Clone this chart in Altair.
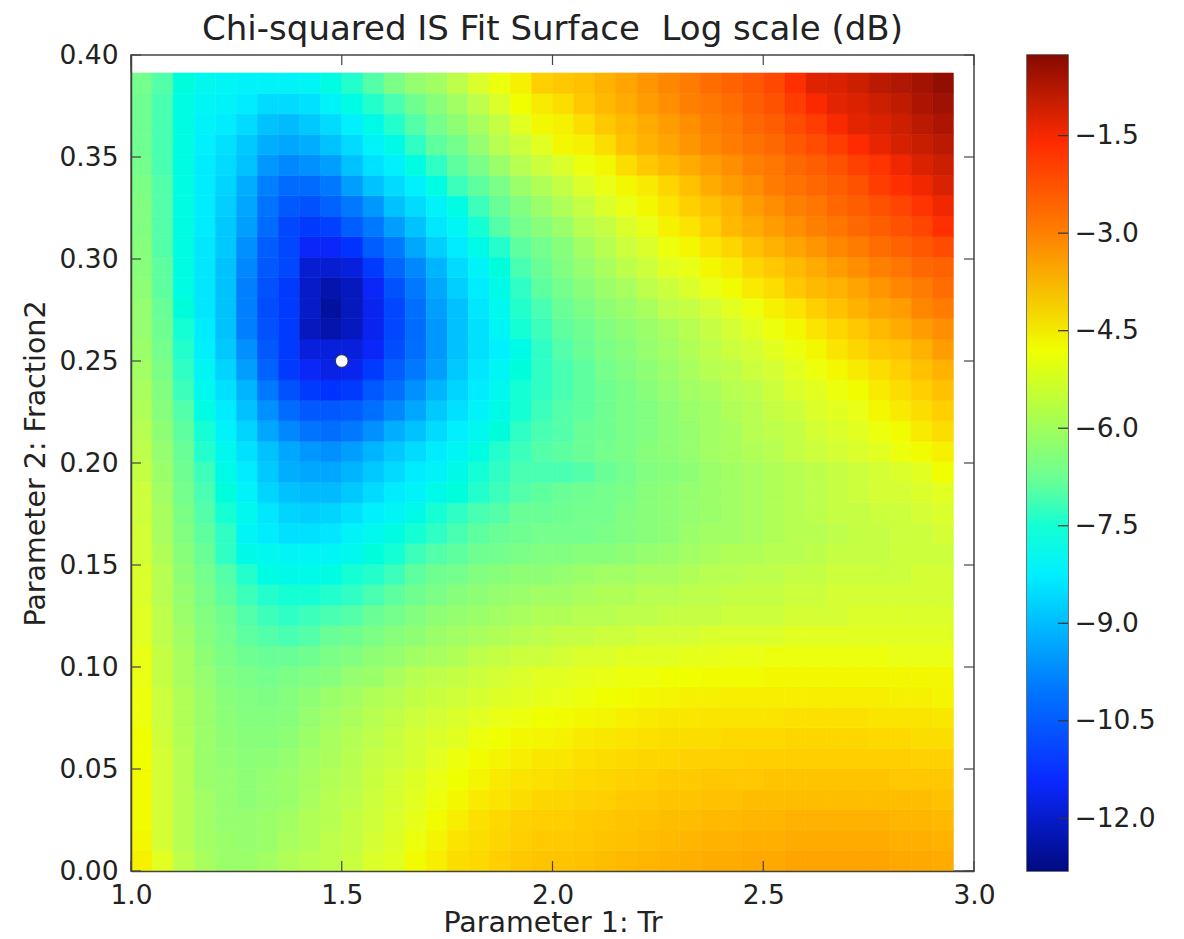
import altair as alt
import pandas as pd

alt.data_transformers.disable_max_rows()

# Surface values in dB; one list per fraction row (top to bottom)
r38 = [-6.6,-7.0,-7.6,-7.9,-8.0,-8.1,-8.1,-8.1,-8.0,-7.7,-7.4,-7.0,-6.5,-6.1,-5.9,-5.5,-5.1,-4.85,-4.6,-4.1,-4.0,-3.9,-3.7,-3.5,-3.3,-3.1,-2.9,-2.6,-2.4,-2.2,-1.95,-1.65,-1.25,-1.2,-1.05,-0.85,-0.75,-0.6,-0.4]
r37 = [-6.7,-7.1,-7.7,-8.0,-8.1,-8.3,-8.6,-8.6,-8.5,-8.1,-7.7,-7.4,-7.1,-6.7,-6.3,-5.9,-5.5,-5.1,-4.8,-4.5,-4.3,-4.0,-3.8,-3.6,-3.4,-3.2,-3.0,-2.8,-2.6,-2.3,-2.1,-1.8,-1.55,-1.3,-1.2,-1.05,-0.9,-0.7,-0.55]
r36 = [-6.7,-7.1,-7.7,-8.1,-8.3,-8.6,-9.0,-9.1,-8.9,-8.6,-8.2,-7.8,-7.4,-7.0,-6.6,-6.2,-5.8,-5.4,-5.0,-4.7,-4.6,-4.3,-4.0,-3.8,-3.6,-3.4,-3.2,-3.0,-2.8,-2.5,-2.3,-2.0,-1.8,-1.55,-1.3,-1.2,-1.05,-0.85,-0.7]
r35 = [-6.7,-7.1,-7.7,-8.2,-8.5,-8.9,-9.3,-9.4,-9.3,-9.0,-8.6,-8.1,-7.8,-7.3,-6.9,-6.6,-6.1,-5.6,-5.3,-5.0,-4.7,-4.6,-4.3,-3.9,-3.7,-3.5,-3.3,-3.1,-2.9,-2.7,-2.5,-2.2,-2.0,-1.8,-1.6,-1.35,-1.15,-1.0,-0.85]
r34 = [-6.6,-7.1,-7.7,-8.3,-8.6,-9.0,-9.6,-9.8,-9.7,-9.5,-9.0,-8.5,-8.2,-7.7,-7.3,-6.9,-6.5,-6.0,-5.6,-5.3,-5.1,-4.85,-4.7,-4.3,-4.0,-3.8,-3.6,-3.4,-3.2,-3.0,-2.8,-2.5,-2.3,-2.1,-1.85,-1.7,-1.45,-1.2,-1.05]
r33 = [-6.5,-7.0,-7.7,-8.3,-8.7,-9.3,-9.9,-10.3,-10.3,-10.0,-9.5,-9.0,-8.6,-8.2,-7.7,-7.2,-6.9,-6.5,-6.0,-5.7,-5.4,-5.1,-4.9,-4.7,-4.5,-4.2,-3.9,-3.6,-3.4,-3.2,-2.9,-2.7,-2.5,-2.3,-2.1,-1.8,-1.65,-1.45,-1.2]
r32 = [-6.4,-7.0,-7.7,-8.3,-8.8,-9.4,-10.1,-10.7,-10.8,-10.5,-10.0,-9.6,-9.0,-8.6,-8.1,-7.7,-7.2,-6.8,-6.4,-6.0,-5.7,-5.4,-5.1,-4.9,-4.7,-4.4,-4.1,-3.9,-3.7,-3.4,-3.2,-3.0,-2.8,-2.5,-2.3,-2.1,-1.9,-1.7,-1.45]
r31 = [-6.4,-7.0,-7.7,-8.3,-8.9,-9.5,-10.3,-11.0,-11.2,-11.1,-10.6,-10.0,-9.5,-9.0,-8.4,-8.0,-7.5,-7.0,-6.6,-6.3,-6.0,-5.6,-5.4,-5.1,-4.9,-4.6,-4.4,-4.1,-3.8,-3.6,-3.4,-3.2,-3.0,-2.8,-2.5,-2.3,-2.1,-1.9,-1.65]
r30 = [-6.3,-7.0,-7.7,-8.4,-8.9,-9.7,-10.6,-11.0,-11.5,-11.5,-11.3,-10.6,-10.0,-9.4,-8.8,-8.3,-7.8,-7.4,-6.9,-6.6,-6.3,-5.9,-5.6,-5.3,-5.1,-4.85,-4.7,-4.4,-4.2,-3.9,-3.7,-3.5,-3.3,-3.1,-2.9,-2.6,-2.4,-2.2,-2.0]
r29 = [-6.3,-6.9,-7.7,-8.4,-9.0,-9.8,-10.7,-11.0,-11.9,-11.9,-11.8,-11.2,-10.4,-9.8,-9.2,-8.6,-8.1,-7.6,-7.1,-6.8,-6.4,-6.1,-5.8,-5.5,-5.3,-5.0,-4.9,-4.7,-4.5,-4.2,-4.0,-3.8,-3.6,-3.4,-3.2,-3.0,-2.8,-2.5,-2.4]
r28 = [-6.2,-6.9,-7.7,-8.4,-9.0,-9.9,-10.8,-11.2,-12.0,-12.3,-12.1,-11.5,-10.8,-10.0,-9.4,-8.8,-8.3,-7.8,-7.3,-6.9,-6.6,-6.3,-6.0,-5.8,-5.5,-5.3,-5.1,-4.9,-4.75,-4.5,-4.3,-4.0,-3.8,-3.7,-3.5,-3.3,-3.1,-2.9,-2.6]
r27 = [-6.1,-6.8,-7.6,-8.4,-9.0,-9.9,-10.9,-11.2,-12.0,-12.45,-12.1,-11.6,-11.0,-10.2,-9.5,-9.0,-8.4,-7.9,-7.4,-7.1,-6.8,-6.5,-6.2,-6.0,-5.8,-5.5,-5.4,-5.2,-5.0,-4.85,-4.6,-4.4,-4.1,-3.9,-3.7,-3.5,-3.4,-3.1,-2.9]
r26 = [-6.1,-6.7,-7.5,-8.3,-9.0,-9.9,-10.8,-11.2,-12.1,-12.3,-12.1,-11.6,-11.0,-10.3,-9.6,-9.0,-8.5,-8.0,-7.5,-7.2,-6.9,-6.7,-6.4,-6.2,-6.0,-5.8,-5.6,-5.4,-5.2,-5.0,-4.85,-4.7,-4.4,-4.2,-4.0,-3.8,-3.6,-3.4,-3.2]
r25 = [-6.0,-6.6,-7.4,-8.2,-8.9,-9.7,-10.7,-11.2,-11.8,-11.8,-11.8,-11.5,-10.9,-10.2,-9.6,-9.0,-8.5,-8.2,-7.8,-7.3,-7.0,-6.8,-6.5,-6.3,-6.1,-5.9,-5.7,-5.5,-5.3,-5.2,-5.0,-4.85,-4.7,-4.4,-4.2,-4.0,-3.9,-3.7,-3.4]
r24 = [-5.9,-6.5,-7.3,-8.0,-8.7,-9.5,-10.5,-11.2,-11.5,-11.7,-11.6,-11.2,-10.6,-10.0,-9.5,-8.9,-8.4,-8.0,-7.6,-7.3,-7.1,-6.9,-6.6,-6.4,-6.2,-6.0,-5.8,-5.6,-5.5,-5.3,-5.2,-5.0,-4.85,-4.7,-4.5,-4.3,-4.1,-3.9,-3.7]
r23 = [-5.8,-6.4,-7.2,-7.9,-8.5,-9.2,-10.0,-10.8,-11.2,-11.3,-11.2,-10.7,-10.2,-9.7,-9.2,-8.7,-8.3,-7.9,-7.5,-7.3,-7.1,-6.9,-6.7,-6.5,-6.3,-6.1,-5.9,-5.8,-5.6,-5.5,-5.3,-5.1,-5.0,-4.85,-4.75,-4.5,-4.3,-4.1,-3.9]
r22 = [-5.7,-6.3,-7.0,-7.7,-8.3,-9.0,-9.7,-10.3,-10.7,-10.7,-10.6,-10.2,-9.8,-9.4,-8.9,-8.5,-8.1,-7.8,-7.5,-7.2,-7.0,-6.9,-6.7,-6.5,-6.4,-6.2,-6.0,-5.9,-5.7,-5.6,-5.4,-5.3,-5.1,-5.0,-4.9,-4.7,-4.5,-4.3,-4.1]
r21 = [-5.6,-6.2,-6.9,-7.5,-8.1,-8.7,-9.4,-9.8,-10.1,-10.2,-10.0,-9.7,-9.3,-9.0,-8.6,-8.2,-7.9,-7.6,-7.3,-7.1,-7.0,-6.8,-6.7,-6.5,-6.4,-6.2,-6.1,-5.9,-5.8,-5.6,-5.5,-5.4,-5.2,-5.1,-5.0,-4.85,-4.75,-4.5,-4.3]
r20 = [-5.5,-6.1,-6.8,-7.4,-7.9,-8.5,-9.0,-9.4,-9.6,-9.7,-9.5,-9.2,-8.9,-8.6,-8.3,-8.0,-7.7,-7.4,-7.2,-7.0,-6.9,-6.8,-6.6,-6.5,-6.3,-6.2,-6.1,-5.9,-5.8,-5.7,-5.6,-5.4,-5.3,-5.2,-5.1,-5.0,-4.85,-4.75,-4.6]
r19 = [-5.4,-6.0,-6.7,-7.2,-7.8,-8.3,-8.9,-9.3,-9.4,-9.4,-9.2,-8.9,-8.6,-8.3,-8.1,-7.8,-7.5,-7.3,-7.1,-7.1,-7.1,-7.0,-6.8,-6.6,-6.4,-6.3,-6.2,-6.0,-5.9,-5.8,-5.7,-5.6,-5.5,-5.4,-5.3,-5.2,-5.1,-5.0,-4.8]
r18 = [-5.3,-5.9,-6.6,-7.1,-7.6,-8.1,-8.7,-9.0,-9.1,-9.1,-8.9,-8.6,-8.3,-8.1,-7.8,-7.6,-7.4,-7.2,-7.0,-6.9,-6.8,-6.7,-6.6,-6.5,-6.3,-6.2,-6.1,-6.0,-5.9,-5.8,-5.7,-5.6,-5.5,-5.4,-5.3,-5.2,-5.2,-5.1,-5.0]
r17 = [-5.3,-5.8,-6.5,-7.0,-7.5,-7.9,-8.4,-8.7,-8.8,-8.7,-8.5,-8.2,-8.0,-7.8,-7.5,-7.3,-7.1,-7.0,-6.8,-6.8,-6.7,-6.6,-6.6,-6.4,-6.3,-6.2,-6.1,-6.0,-5.9,-5.8,-5.7,-5.6,-5.5,-5.4,-5.4,-5.3,-5.3,-5.2,-5.1]
r16 = [-5.2,-5.8,-6.4,-6.9,-7.3,-8.0,-8.3,-8.5,-8.5,-8.4,-8.1,-7.9,-7.7,-7.5,-7.3,-7.1,-6.9,-6.8,-6.7,-6.6,-6.6,-6.6,-6.5,-6.4,-6.3,-6.2,-6.0,-5.9,-5.9,-5.8,-5.7,-5.6,-5.6,-5.5,-5.4,-5.4,-5.3,-5.3,-5.2]
r15 = [-5.2,-5.7,-6.3,-6.8,-7.3,-7.8,-7.9,-8.0,-8.0,-8.0,-7.9,-7.6,-7.5,-7.2,-7.0,-6.9,-6.7,-6.6,-6.5,-6.4,-6.4,-6.3,-6.3,-6.2,-6.1,-6.0,-5.9,-5.8,-5.7,-5.7,-5.6,-5.6,-5.5,-5.4,-5.4,-5.4,-5.3,-5.3,-5.3]
r14 = [-5.1,-5.6,-6.2,-6.6,-7.0,-7.4,-7.7,-7.8,-7.8,-7.7,-7.5,-7.4,-7.2,-6.9,-6.7,-6.6,-6.4,-6.3,-6.2,-6.2,-6.1,-6.0,-5.9,-5.9,-5.8,-5.8,-5.7,-5.6,-5.6,-5.5,-5.5,-5.4,-5.4,-5.3,-5.3,-5.3,-5.3,-5.2,-5.2]
r13 = [-5.1,-5.6,-6.1,-6.5,-6.9,-7.2,-7.4,-7.5,-7.5,-7.4,-7.3,-7.1,-6.9,-6.7,-6.5,-6.3,-6.2,-6.1,-6.0,-5.9,-5.9,-5.8,-5.7,-5.7,-5.6,-5.6,-5.5,-5.5,-5.4,-5.4,-5.4,-5.3,-5.3,-5.2,-5.2,-5.2,-5.2,-5.2,-5.2]
r12 = [-5.0,-5.5,-6.0,-6.4,-6.7,-7.0,-7.2,-7.3,-7.2,-7.1,-7.0,-6.8,-6.6,-6.4,-6.2,-6.1,-6.0,-5.9,-5.8,-5.7,-5.7,-5.6,-5.6,-5.5,-5.5,-5.4,-5.4,-5.4,-5.3,-5.3,-5.3,-5.2,-5.2,-5.2,-5.1,-5.1,-5.1,-5.1,-5.1]
r11 = [-5.0,-5.5,-5.9,-6.3,-6.6,-6.9,-7.0,-7.1,-7.0,-6.8,-6.7,-6.5,-6.3,-6.2,-6.0,-5.9,-5.8,-5.7,-5.6,-5.5,-5.4,-5.4,-5.3,-5.3,-5.2,-5.2,-5.2,-5.1,-5.1,-5.1,-5.1,-5.0,-5.0,-5.0,-5.0,-5.0,-5.0,-5.0,-5.0]
r10 = [-4.9,-5.4,-5.8,-6.2,-6.5,-6.7,-6.8,-6.8,-6.7,-6.5,-6.4,-6.2,-6.1,-5.9,-5.8,-5.7,-5.5,-5.4,-5.3,-5.3,-5.2,-5.1,-5.1,-5.0,-5.0,-5.0,-4.95,-4.95,-4.9,-4.9,-4.85,-4.85,-4.85,-4.85,-4.85,-4.85,-4.9,-4.9,-4.9]
r09 = [-4.9,-5.4,-5.8,-6.1,-6.4,-6.5,-6.6,-6.5,-6.4,-6.3,-6.1,-6.0,-5.8,-5.6,-5.5,-5.4,-5.3,-5.2,-5.1,-5.0,-5.0,-4.95,-4.9,-4.85,-4.85,-4.8,-4.8,-4.75,-4.75,-4.75,-4.7,-4.7,-4.7,-4.7,-4.7,-4.7,-4.7,-4.7,-4.7]
r08 = [-4.85,-5.3,-5.7,-6.0,-6.3,-6.4,-6.45,-6.35,-6.2,-6.0,-5.9,-5.7,-5.6,-5.45,-5.35,-5.25,-5.15,-5.05,-5.0,-4.95,-4.9,-4.85,-4.8,-4.75,-4.7,-4.65,-4.6,-4.6,-4.55,-4.55,-4.55,-4.55,-4.55,-4.55,-4.55,-4.55,-4.6,-4.6,-4.65]
r07 = [-4.85,-5.3,-5.7,-6.0,-6.25,-6.35,-6.35,-6.3,-6.1,-5.9,-5.75,-5.6,-5.45,-5.3,-5.2,-5.1,-5.0,-4.9,-4.85,-4.8,-4.75,-4.7,-4.65,-4.55,-4.5,-4.45,-4.45,-4.4,-4.4,-4.4,-4.4,-4.35,-4.35,-4.35,-4.35,-4.4,-4.4,-4.4,-4.45]
r06 = [-4.8,-5.25,-5.65,-6.0,-6.2,-6.3,-6.3,-6.2,-6.0,-5.8,-5.65,-5.5,-5.35,-5.2,-5.1,-5.0,-4.85,-4.8,-4.7,-4.65,-4.6,-4.5,-4.45,-4.4,-4.35,-4.3,-4.3,-4.3,-4.25,-4.25,-4.25,-4.2,-4.2,-4.2,-4.2,-4.25,-4.25,-4.3,-4.3]
r05 = [-4.8,-5.2,-5.6,-6.0,-6.15,-6.25,-6.2,-6.1,-5.9,-5.75,-5.6,-5.4,-5.3,-5.15,-5.0,-4.85,-4.75,-4.65,-4.55,-4.45,-4.45,-4.35,-4.3,-4.25,-4.2,-4.2,-4.15,-4.15,-4.15,-4.1,-4.1,-4.1,-4.1,-4.1,-4.1,-4.1,-4.1,-4.15,-4.15]
r04 = [-4.75,-5.2,-5.6,-6.0,-6.1,-6.2,-6.1,-6.0,-5.85,-5.65,-5.55,-5.35,-5.2,-5.05,-4.9,-4.8,-4.65,-4.5,-4.4,-4.35,-4.3,-4.25,-4.2,-4.15,-4.1,-4.05,-4.05,-4.0,-4.0,-4.0,-3.95,-3.95,-3.95,-3.95,-3.95,-3.95,-4.0,-4.0,-4.0]
r03 = [-4.75,-5.2,-5.6,-5.9,-6.1,-6.2,-6.1,-6.0,-5.8,-5.6,-5.5,-5.3,-5.15,-5.0,-4.85,-4.7,-4.5,-4.4,-4.3,-4.2,-4.2,-4.15,-4.1,-4.05,-4.0,-3.95,-3.95,-3.9,-3.9,-3.85,-3.85,-3.85,-3.85,-3.85,-3.85,-3.85,-3.85,-3.85,-3.9]
r02 = [-4.75,-5.2,-5.6,-5.9,-6.1,-6.1,-6.0,-5.9,-5.7,-5.6,-5.4,-5.25,-5.1,-4.95,-4.75,-4.55,-4.35,-4.25,-4.15,-4.1,-4.1,-4.05,-4.0,-3.95,-3.9,-3.85,-3.85,-3.8,-3.8,-3.75,-3.75,-3.7,-3.7,-3.7,-3.7,-3.7,-3.75,-3.75,-3.8]
r01 = [-4.7,-5.2,-5.6,-5.9,-6.0,-6.1,-6.0,-5.8,-5.7,-5.5,-5.4,-5.2,-5.05,-4.85,-4.65,-4.4,-4.3,-4.2,-4.1,-4.05,-4.05,-4.0,-3.95,-3.9,-3.85,-3.8,-3.75,-3.7,-3.7,-3.65,-3.65,-3.6,-3.6,-3.6,-3.6,-3.6,-3.65,-3.65,-3.7]
r00 = [-4.6,-5.0,-5.5,-5.8,-6.0,-6.0,-5.9,-5.7,-5.6,-5.5,-5.35,-5.1,-5.0,-4.75,-4.55,-4.3,-4.25,-4.1,-4.0,-3.95,-3.95,-3.9,-3.85,-3.8,-3.75,-3.7,-3.65,-3.6,-3.6,-3.55,-3.55,-3.5,-3.5,-3.5,-3.5,-3.5,-3.55,-3.55,-3.6]
rows = [r00,r01,r02,r03,r04,r05,r06,r07,r08,r09,r10,r11,r12,r13,r14,r15,r16,r17,r18,r19,
        r20,r21,r22,r23,r24,r25,r26,r27,r28,r29,r30,r31,r32,r33,r34,r35,r36,r37,r38]

x_ticks = [1.0, 1.5, 2.0, 2.5, 3.0]
y_ticks = [0.0, 0.05, 0.10, 0.15, 0.20, 0.25, 0.30, 0.35, 0.40]
cbar_ticks = [-12.0, -10.5, -9.0, -7.5, -6.0, -4.5, -3.0, -1.5]
marker_x = [1.5]
marker_y = [0.25]

v_lo, v_hi = -12.81, -0.26
c_dom = [-12.81, -11.43, -10.0, -8.25, -7.5, -6.8, -4.8, -3.0, -1.6, -1.0, -0.26]
c_rng = ["#000a80", "#0a28ff", "#0078ff", "#00f0ff", "#14ffd4", "#69ff96", "#f0ff00", "#ff8000", "#ff2a00", "#c81e00", "#860a00"]

FONT = "DejaVu Sans"
INK = "#222222"
EDGE = "#444444"
TICK = 10
W, H, BW = 843, 816, 41

step_x, step_y = 0.05003, 0.01003
cells = [dict(x=1 + step_x * i, x2=1 + step_x * (i + 1), y=step_y * k, y2=step_y * (k + 1), v=val)
         for k, row in enumerate(rows) for i, val in enumerate(row)]
heat_df = pd.DataFrame(cells)

cscale = alt.Scale(domain=c_dom, range=c_rng, clamp=True)
xscale = alt.Scale(domain=[1, 3], nice=False, zero=False)
yscale = alt.Scale(domain=[0, 0.4], nice=False, zero=False)

x_axis = alt.Axis(values=x_ticks, format=".1f", title="Parameter 1: Tr", grid=False, tickSize=0,
                  labelPadding=11, titlePadding=0, labelFontSize=26.5, titleFontSize=28.5,
                  labelFont=FONT, titleFont=FONT, labelColor=INK, titleColor=INK, titleFontWeight="normal",
                  domainColor=EDGE, domainWidth=1.5, zindex=1, labelOverlap=False, labelFlush=False)
y_axis = alt.Axis(values=y_ticks, format=".2f", title="Parameter 2: Fraction2", grid=False, tickSize=0,
                  labelPadding=13, titlePadding=8, labelFontSize=26.5, titleFontSize=28.5,
                  labelFont=FONT, titleFont=FONT, labelColor=INK, titleColor=INK, titleFontWeight="normal",
                  domainColor=EDGE, domainWidth=1.5, zindex=1, labelOverlap=False, labelFlush=False)

heat = alt.Chart(heat_df).mark_rect(strokeWidth=0.6).encode(
    x=alt.X("x:Q", scale=xscale, axis=x_axis),
    x2="x2:Q",
    y=alt.Y("y:Q", scale=yscale, axis=y_axis),
    y2="y2:Q",
    color=alt.Color("v:Q", scale=cscale, legend=None),
    stroke=alt.Stroke("v:Q", scale=cscale, legend=None),
)

xt = alt.Chart(pd.DataFrame({"t": x_ticks}))
yt = alt.Chart(pd.DataFrame({"t": y_ticks}))
def xtick(a, b):
    return xt.mark_rule(color=EDGE, strokeWidth=1.2).encode(
        x=alt.X("t:Q", scale=xscale, axis=x_axis), y=alt.value(a), y2=alt.value(b))
def ytick(a, b):
    return yt.mark_rule(color=EDGE, strokeWidth=1.2).encode(
        y=alt.Y("t:Q", scale=yscale, axis=y_axis), x=alt.value(a), x2=alt.value(b))

dot = alt.Chart(pd.DataFrame({"x": marker_x, "y": marker_y})).mark_point(
    filled=True, fill="white", stroke="#333333", strokeWidth=1, size=160, opacity=1
).encode(x=alt.X("x:Q", scale=xscale, axis=x_axis), y=alt.Y("y:Q", scale=yscale, axis=y_axis))

main = alt.layer(heat, xtick(0, TICK), xtick(H - TICK, H), ytick(0, TICK), ytick(W - TICK, W), dot).properties(
    width=W, height=H,
    title=alt.TitleParams("Chi-squared IS Fit Surface \u00a0Log scale (dB)", fontSize=34, font=FONT,
                          fontWeight="normal", color=INK, offset=-4.5),
)

bar_scale = alt.Scale(domain=[v_lo, v_hi], nice=False, zero=False)
bar_axis = alt.Axis(values=cbar_ticks, format=".1f", orient="right", title=None, grid=False, tickSize=0, domain=False,
                    labelPadding=6, labelFontSize=26.5, labelFont=FONT, labelColor=INK, labelOverlap=False, labelFlush=False)
stops = [alt.GradientStop(color=c, offset=(d - v_lo) / (v_hi - v_lo)) for d, c in zip(c_dom, c_rng)]
grad = alt.LinearGradient(gradient="linear", stops=stops, x1=0, x2=0, y1=1, y2=0)
bar_rect = alt.Chart(pd.DataFrame({"lo": [v_lo], "hi": [v_hi]})).mark_rect(color=grad).encode(
    y=alt.Y("lo:Q", scale=bar_scale, axis=bar_axis),
    y2="hi:Q", x=alt.value(0), x2=alt.value(BW),
)
bar_ticks = alt.Chart(pd.DataFrame({"t": cbar_ticks})).mark_rule(color="#333333", strokeWidth=1.2).encode(
    y=alt.Y("t:Q", scale=bar_scale, axis=bar_axis), x=alt.value(BW - TICK), x2=alt.value(BW))
cbar = alt.layer(bar_rect, bar_ticks).properties(width=BW, height=H)

chart = alt.hconcat(main, cbar, spacing=30).properties(
    padding={"left": 13, "top": 3, "right": 0, "bottom": 0}, background="white"
).configure_view(stroke=EDGE, strokeWidth=1.5)

chart.save("out.html", embed_options={"renderer": "svg", "actions": False})
